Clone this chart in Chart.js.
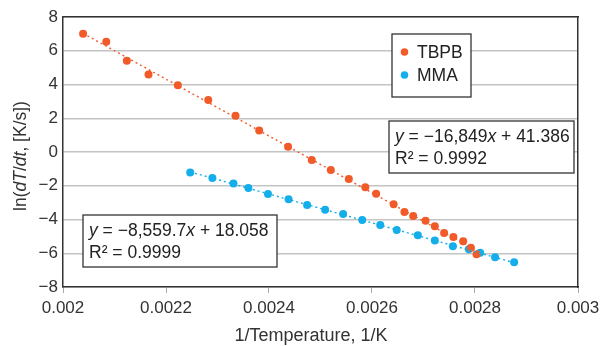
<!DOCTYPE html>
<html>
<head>
<meta charset="utf-8">
<script src="https://cdn.jsdelivr.net/npm/chart.js@4/dist/chart.umd.min.js"></script>
<style>
  html, body { margin: 0; padding: 0; background: #fff; }
  #wrap { width: 600px; height: 346px; position: relative; }
</style>
</head>
<body>
<div id="wrap"><canvas id="c" width="600" height="346"></canvas></div>
<script>
// values
const tbpbX = [0.002039, 0.002084, 0.002124, 0.002166, 0.002223, 0.002282, 0.002335, 0.002381, 0.002437,
    0.002483, 0.002520, 0.002555, 0.002587, 0.002608, 0.002642, 0.002663, 0.002680, 0.002704, 0.002722,
    0.002740, 0.002758, 0.002777, 0.002792, 0.002803];
const tbpbY = [7.01, 6.54, 5.41, 4.60, 3.95, 3.08, 2.15, 1.28, 0.31,
    -0.47, -1.07, -1.60, -2.09, -2.47, -3.10, -3.56, -3.79, -4.07, -4.40,
    -4.80, -5.04, -5.29, -5.67, -6.06];
const mmaX = [0.002247, 0.002290, 0.002331, 0.002360, 0.002398, 0.002438, 0.002474, 0.002509, 0.002544,
    0.002581, 0.002616, 0.002648, 0.002689, 0.002722, 0.002757, 0.002788, 0.002810, 0.002839, 0.002876];
const mmaY = [-1.21, -1.54, -1.86, -2.13, -2.49, -2.80, -3.14, -3.42, -3.67,
    -4.03, -4.33, -4.62, -4.94, -5.25, -5.59, -5.77, -5.97, -6.24, -6.54];

// trendline end points (from the picture)
const tbpbTrendX = [0.002039, 0.002803];
const tbpbTrendY = [7.03, -5.84];
const mmaTrendX = [0.002247, 0.002876];
const mmaTrendY = [-1.18, -6.56];

const seriesNames = ['TBPB', 'MMA'];
// slope / intercept text of the trendline labels
const slopes = ['\u221216,849', '\u22128,559.7'];
const intercepts = ['41.386', '18.058'];
const rSquared = ['0.9992', '0.9999'];
const xTitleText = '1/Temperature, 1/K';

const ORANGE = '#f15a29';
const BLUE = '#14aeea';
const FONT = '"Liberation Sans", Arial, sans-serif';
const BOX_FONT = '17.5px ' + FONT;

const pts = (xs, ys) => xs.map((x, i) => ({ x: x, y: ys[i] }));
const minus = s => String(s).replace('-', '\u2212');

// draws a run of [text, italic] pieces starting at x
const drawRuns = (ctx, runs, x, y, font) => {
    let cx = x;
    runs.forEach(([t, it]) => {
        ctx.font = (it ? 'italic ' : '') + font;
        ctx.fillText(t, cx, y);
        cx += ctx.measureText(t).width;
    });
    return cx - x;
};

// legend and equation boxes, drawn on top of the plot
const boxes = {
    id: 'boxes',
    afterDraw(chart) {
        const ctx = chart.ctx;
        ctx.save();
        ctx.lineWidth = 1.3;
        ctx.strokeStyle = '#333';
        ctx.fillStyle = '#fff';

        // legend
        ctx.fillRect(392, 34, 79, 63);
        ctx.strokeRect(392, 34, 79, 63);
        [[ORANGE, 52], [BLUE, 75]].forEach(([col, y], i) => {
            ctx.beginPath();
            ctx.fillStyle = col;
            ctx.arc(404.5, y, 3.8, 0, Math.PI * 2);
            ctx.fill();
            ctx.fillStyle = '#222';
            ctx.font = BOX_FONT;
            ctx.textBaseline = 'middle';
            ctx.fillText(seriesNames[i], 417, y + 1);
        });

        const eqBox = (x, y, w, h, i) => {
            ctx.fillStyle = '#fff';
            ctx.fillRect(x, y, w, h);
            ctx.strokeRect(x, y, w, h);
            ctx.fillStyle = '#222';
            ctx.textBaseline = 'alphabetic';
            drawRuns(ctx, [['y', true], [' = ' + slopes[i], false], ['x', true], [' + ' + intercepts[i], false]],
                x + 6, y + 21, BOX_FONT);
            ctx.font = BOX_FONT;
            ctx.fillText('R\u00b2 = ' + rSquared[i], x + 6, y + 43);
        };
        eqBox(389, 121, 185, 52, 0);
        eqBox(83, 215, 194, 52, 1);
        ctx.restore();
    }
};

// axis titles (y one has italic dT/dt)
const axisTitles = {
    id: 'axisTitles',
    afterDraw(chart) {
        const ctx = chart.ctx;
        const runs = [['ln(', false], ['dT', true], ['/', false], ['dt', true], [', [K/s])', false]];
        const font = '17.5px ' + FONT;
        ctx.save();
        ctx.fillStyle = '#333';
        ctx.textBaseline = 'middle';
        ctx.textAlign = 'center';
        ctx.font = '18px ' + FONT;
        ctx.fillText(xTitleText, 311, 336);
        ctx.textAlign = 'left';
        ctx.translate(21, 156);
        ctx.rotate(-Math.PI / 2);
        ctx.globalAlpha = 0;
        const w = drawRuns(ctx, runs, 0, 0, font);
        ctx.globalAlpha = 1;
        drawRuns(ctx, runs, -w / 2, 0, font);
        ctx.restore();
    }
};

new Chart(document.getElementById('c'), {
    type: 'scatter',
    data: {
        datasets: [
            { label: 'TBPB trend', type: 'line', data: pts(tbpbTrendX, tbpbTrendY), borderColor: ORANGE,
              borderWidth: 1.4, borderDash: [2, 3], pointRadius: 0, fill: false },
            { label: 'MMA trend', type: 'line', data: pts(mmaTrendX, mmaTrendY), borderColor: BLUE,
              borderWidth: 1.4, borderDash: [2, 3], pointRadius: 0, fill: false },
            { label: seriesNames[0], data: pts(tbpbX, tbpbY), backgroundColor: ORANGE, borderColor: ORANGE,
              pointRadius: 4, borderWidth: 0 },
            { label: seriesNames[1], data: pts(mmaX, mmaY), backgroundColor: BLUE, borderColor: BLUE,
              pointRadius: 4, borderWidth: 0 }
        ]
    },
    options: {
        responsive: false,
        animation: false,
        layout: { padding: { top: 17, right: 22, left: 0, bottom: 0 } },
        plugins: { legend: { display: false }, tooltip: { enabled: false } },
        scales: {
            x: {
                type: 'linear',
                min: 0.002, max: 0.003,
                ticks: {
                    stepSize: 0.0002,
                    color: '#333',
                    font: { family: FONT, size: 17 },
                    padding: 5,
                    callback: v => parseFloat(v.toFixed(4)).toString()
                },
                grid: { display: true, drawOnChartArea: false, drawTicks: true, tickLength: 6, color: '#aaa' },
                border: { color: '#333', width: 1.5 },
                afterFit: s => { s.height = 59; s.paddingLeft = 0; s.paddingRight = 0; }
            },
            y: {
                min: -8, max: 8,
                ticks: {
                    stepSize: 2,
                    color: '#333',
                    font: { family: FONT, size: 17 },
                    padding: 5,
                    callback: v => minus(v)
                },
                grid: { color: '#c4c4c4', lineWidth: 1.5, drawTicks: false },
                border: { color: '#333', width: 1.5 },
                afterFit: s => { s.width = 63; s.paddingTop = 0; s.paddingBottom = 0; }
            },
            x2: {
                type: 'linear', position: 'top', min: 0.002, max: 0.003,
                ticks: { display: false }, grid: { display: false },
                border: { color: '#333', width: 1.5 },
                afterFit: s => { s.height = 0; }
            },
            y2: {
                position: 'right', min: -8, max: 8,
                ticks: { display: false }, grid: { display: false },
                border: { color: '#333', width: 1.5 },
                afterFit: s => { s.width = 0; }
            }
        }
    },
    plugins: [axisTitles, boxes]
});
</script>
</body>
</html>
